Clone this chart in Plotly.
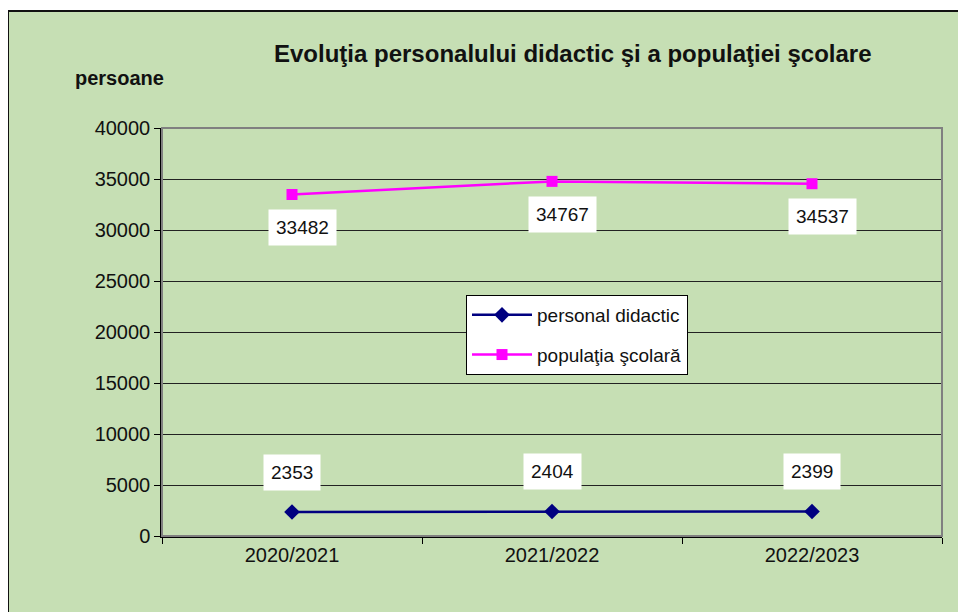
import plotly.graph_objects as go

# date
ani = ["2020/2021", "2021/2022", "2022/2023"]
personal_didactic = [2353, 2404, 2399]
populatia_scolara = [33482, 34767, 34537]

FONT = "Liberation Sans, Arial, sans-serif"

# pagina are 8px margine, deci zona de desenare: x 154-934, y 120-528
W, H = 958, 604
L, R, T, B = 154, 24, 120, 76
PW, PH = W - L - R, H - T - B


def px_x(x):
    return (x - L) / PW


def px_y(y):
    return (H - B - y) / PH


fig = go.Figure()

fig.add_trace(go.Scatter(
    x=ani, y=personal_didactic,
    mode="lines+markers",
    name="personal didactic", legendgroup="a",
    line=dict(color="#000080", width=2.5),
    marker=dict(symbol="diamond", size=12, color="#000080"),
))

fig.add_trace(go.Scatter(
    x=ani, y=populatia_scolara,
    mode="lines+markers",
    name="populaţia şcolară", legendgroup="b",
    line=dict(color="#FF00FF", width=2.5),
    marker=dict(symbol="square", size=11, color="#FF00FF"),
))

# etichete de date (cutii albe)
for a, v in zip(ani, personal_didactic):
    fig.add_annotation(x=a, y=v, text=str(v), showarrow=False,
                       yshift=40, bgcolor="white", borderpad=7,
                       font=dict(family=FONT, size=19, color="#111"))
for a, v in zip(ani, populatia_scolara):
    fig.add_annotation(x=a, y=v, text=str(v), showarrow=False,
                       yshift=-33, xshift=10, bgcolor="white", borderpad=7,
                       font=dict(family=FONT, size=19, color="#111"))

# fundal verde al diagramei
fig.add_shape(type="rect", xref="paper", yref="paper",
              x0=px_x(0), x1=px_x(W + 10), y0=px_y(H + 10), y1=px_y(3),
              line=dict(color="#111", width=2), fillcolor="#C6DFB4", layer="below")

fig.add_annotation(xref="paper", yref="paper", x=px_x(565), y=px_y(46),
                   text="<b>Evoluţia personalului didactic şi a populaţiei şcolare</b>",
                   showarrow=False, xanchor="center", yanchor="middle",
                   font=dict(family=FONT, size=24, color="#111"))
fig.add_annotation(xref="paper", yref="paper", x=px_x(111), y=px_y(70),
                   text="<b>persoane</b>", showarrow=False,
                   xanchor="center", yanchor="middle",
                   font=dict(family=FONT, size=20, color="#111"))

fig.update_layout(
    width=W, height=H,
    margin=dict(l=L, r=R, t=T, b=B),
    paper_bgcolor="white",
    plot_bgcolor="#CCFFFF",
    font=dict(family=FONT, size=19, color="#111"),
    showlegend=True,
    legend=dict(
        x=px_x(458), y=px_y(287), xanchor="left", yanchor="top",
        bgcolor="white", bordercolor="#000", borderwidth=1,
        font=dict(family=FONT, size=19, color="#111"),
        traceorder="grouped", tracegroupgap=12, itemwidth=60,
    ),
)

fig.update_xaxes(
    type="category", range=[-0.5, 2.5],
    tickson="boundaries", ticks="outside", ticklen=6, tickcolor="#000",
    showgrid=False, showline=True, linecolor="#000", linewidth=1.5,
    mirror=False, tickfont=dict(size=20),
)
fig.update_yaxes(
    range=[0, 40000], dtick=5000, ticks="outside", ticklen=6, tickcolor="#000",
    showgrid=True, gridcolor="#222", gridwidth=1,
    showline=True, linecolor="#000", linewidth=1.5,
    zeroline=False, tickfont=dict(size=20), tickformat="d",
)

# chenar gri al zonei de desenare
fig.add_shape(type="rect", xref="paper", yref="paper", x0=0, x1=1, y0=0, y1=1,
              line=dict(color="#808080", width=2), fillcolor="rgba(0,0,0,0)")

fig.write_html("out.html")
